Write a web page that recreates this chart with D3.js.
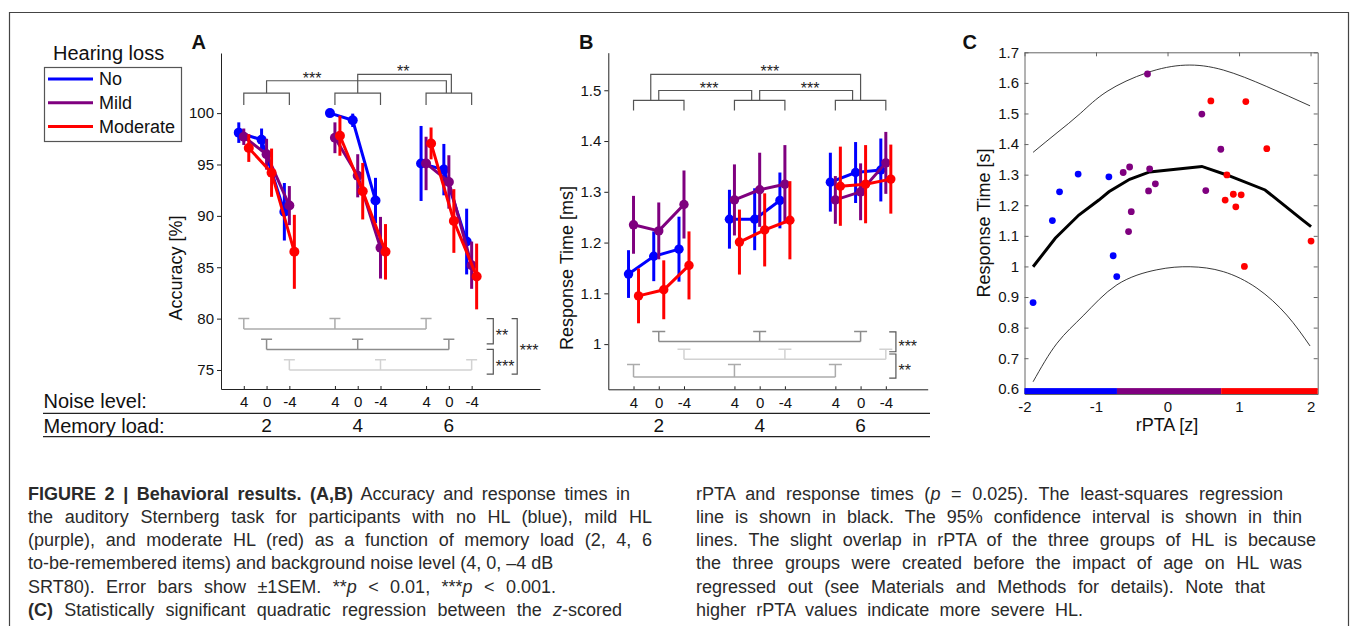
<!DOCTYPE html>
<html>
<head>
<meta charset="utf-8">
<script src="https://cdn.jsdelivr.net/npm/d3@7"></script>
<style>
  body { margin: 0; background: #fff; }
  svg { display: block; font-family: "Liberation Sans", Arial, sans-serif; }
</style>
</head>
<body>
<svg></svg>
<script>
let width = 1353;
let height = 626;
let font = '"Liberation Sans", Arial, sans-serif';

let hlGroups = ['No', 'Mild', 'Moderate'];
let hlColors = ['#0000ff', '#7f007f', '#ff0000'];
let memoryLoads = ['2', '4', '6'];
let noiseLevels = ['4', '0', '-4'];
// slot of every condition on the x axis: load 2 (4,0,-4), load 4, load 6
let slots = [1, 2, 3, 5, 6, 7, 9, 10, 11];

// panel A, accuracy [%] and SEM
let accNo = [98.1, 97.4, 90.4, 100.0, 99.3, 91.5, 95.1, 94.5, 87.5];
let accNoSem = [1.0, 1.1, 2.8, 0.08, 0.65, 2.2, 3.65, 2.5, 3.2];
let accMild = [97.7, 96.0, 91.0, 97.6, 93.9, 86.9, 95.1, 93.3, 85.2];
let accMildSem = [0.8, 1.5, 1.9, 1.5, 2.1, 3.0, 2.6, 2.6, 2.3];
let accMod = [96.6, 94.2, 86.5, 97.8, 92.4, 86.5, 97.05, 89.5, 84.1];
let accModSem = [1.35, 2.35, 3.6, 1.95, 2.75, 2.7, 1.55, 3.1, 3.2];

// panel B, response time and SEM
let rtNo = [1.138, 1.173, 1.187, 1.246, 1.246, 1.283, 1.319, 1.338, 1.343];
let rtNoSem = [0.047, 0.049, 0.064, 0.058, 0.061, 0.055, 0.058, 0.060, 0.062];
let rtMild = [1.235, 1.223, 1.275, 1.284, 1.304, 1.315, 1.284, 1.300, 1.357];
let rtMildSem = [0.057, 0.056, 0.067, 0.070, 0.073, 0.077, 0.047, 0.056, 0.061];
let rtMod = [1.095, 1.107, 1.155, 1.201, 1.225, 1.244, 1.311, 1.315, 1.325];
let rtModSem = [0.054, 0.058, 0.067, 0.064, 0.072, 0.077, 0.078, 0.077, 0.068];

// panel C, rPTA [z] vs response time [s]
let rptaNo = [-1.88, -1.61, -1.51, -1.25, -0.82, -0.76, -0.71];
let respNo = [0.882, 1.150, 1.244, 1.302, 1.293, 1.035, 0.967];
let rptaMild = [-0.62, -0.53, -0.545, -0.507, -0.28, -0.265, -0.25, -0.17, 0.48, 0.535, 0.745];
let respMild = [1.307, 1.325, 1.114, 1.179, 1.629, 1.247, 1.319, 1.270, 1.498, 1.248, 1.383];
let rptaMod = [0.606, 0.806, 0.83, 0.92, 0.955, 1.03, 1.075, 1.095, 1.388, 2.007];
let respMod = [1.541, 1.217, 1.299, 1.236, 1.195, 1.234, 1.0, 1.539, 1.385, 1.083];

let fitX = [-1.88, -1.57, -1.24, -0.96, -0.82, -0.53, -0.25, 0.48, 0.83, 1.364, 1.877, 2.007];
let fitY = [0.999, 1.092, 1.168, 1.217, 1.244, 1.285, 1.309, 1.327, 1.299, 1.25, 1.154, 1.130];
let ciUpX = [-1.88, -1.545, -1.22, -0.846, -0.29, 0.247, 0.78, 1.388, 1.993];
let ciUpY = [1.373, 1.437, 1.50, 1.572, 1.633, 1.658, 1.642, 1.588, 1.525];
let ciLowX = [-1.88, -1.545, -1.17, -0.707, -0.15, 0.317, 0.78, 1.25, 1.667, 1.993];
let ciLowY = [0.623, 0.749, 0.841, 0.94, 0.989, 0.999, 0.983, 0.929, 0.841, 0.740];
let hlBounds = [-2, -0.707, 0.75, 2.1];

let cTicksX = [-2, -1, 0, 1, 2];
let cTicksY = [0.6, 0.7, 0.8, 0.9, 1.0, 1.1, 1.2, 1.3, 1.4, 1.5, 1.6, 1.7];

let captionLeft = [
  [['FIGURE 2 | Behavioral results. (A,B)', 'b'], [' Accuracy and response times in', '']],
  [['the auditory Sternberg task for participants with no HL (blue), mild HL', '']],
  [['(purple), and moderate HL (red) as a function of memory load (2, 4, 6', '']],
  [['to-be-remembered items) and background noise level (4, 0, \u20134 dB', '']],
  [['SRT80). Error bars show \u00b11SEM. **', ''], ['p', 'i'], [' < 0.01, ***', ''], ['p', 'i'], [' < 0.001.', '']],
  [['(C)', 'b'], [' Statistically significant quadratic regression between the ', ''], ['z', 'i'], ['-scored', '']]
];
let captionRight = [
  [['rPTA and response times (', ''], ['p', 'i'], [' = 0.025). The least-squares regression', '']],
  [['line is shown in black. The 95% confidence interval is shown in thin', '']],
  [['lines. The slight overlap in rPTA of the three groups of HL is because', '']],
  [['the three groups were created before the impact of age on HL was', '']],
  [['regressed out (see Materials and Methods for details). Note that', '']],
  [['higher rPTA values indicate more severe HL.', '']]
];
let captionLeftEnds = [630, 652, 652, 548, 556, 622];
let captionRightEnds = [1283, 1302, 1316, 1302, 1265, 1083];

let svg = d3.select('svg')
  .attr('width', width)
  .attr('height', height)

svg.append('rect').attr('width', width).attr('height', height).attr('fill', '#fff');

// page frame
svg.append('path')
  .attr('d', 'M9.5,626V12.5H1348.5V626')
  .attr('fill', 'none')
  .attr('stroke', '#444')
  .attr('stroke-width', 1.2)

let xA = d3.scaleLinear().domain([0, 14]).range([221, 540]);
let yA = d3.scaleLinear().domain([73.15, 105.85]).range([389, 53]);
let xB = d3.scaleLinear().domain([0, 12.66]).range([608.3, 927.7]);
let yB = d3.scaleLinear().domain([0.911, 1.574]).range([389.3, 52.7]);
let xC = d3.scaleLinear().domain([-2, 2.1]).range([1024.5, 1317.7]);
let yC = d3.scaleLinear().domain([0.583, 1.7]).range([394, 52.3]);

let seriesOffset = [-5, 0, 5];

let styleAxis = (g, size, color) => {
  g.attr('font-family', font).attr('font-size', size)
  g.selectAll('path, line').attr('stroke', color)
  g.selectAll('text').attr('fill', '#111')
}

let drawSeries = (xScale, yScale, series, radius) => {
  series.forEach((s, si) => {
    let color = hlColors[si];
    let pts = s.values.map((v, i) => ({
      x: xScale(slots[i]) + seriesOffset[si],
      y: yScale(v),
      lo: yScale(v - s.sem[i]),
      hi: yScale(v + s.sem[i])
    }))
    let g = svg.append('g');
    g.selectAll('line')
      .data(pts)
      .enter()
      .append('line')
      .attr('x1', d => d.x).attr('x2', d => d.x)
      .attr('y1', d => d.lo).attr('y2', d => d.hi)
      .attr('stroke', color)
      .attr('stroke-width', 3)
    memoryLoads.forEach((m, li) => {
      g.append('path')
        .datum(pts.slice(li * 3, li * 3 + 3))
        .attr('d', d3.line().x(d => d.x).y(d => d.y))
        .attr('fill', 'none')
        .attr('stroke', color)
        .attr('stroke-width', 3)
    })
    g.selectAll('circle')
      .data(pts)
      .enter()
      .append('circle')
      .attr('cx', d => d.x)
      .attr('cy', d => d.y)
      .attr('r', radius)
      .attr('fill', color)
  })
}

let stars = (x, y, label, anchor) => {
  svg.append('text')
    .attr('x', x).attr('y', y)
    .attr('text-anchor', anchor)
    .attr('font-size', 16)
    .attr('fill', '#222')
    .text(label)
}

// brackets over each memory load and comparisons between loads
let drawLoadBrackets = (xScale, yScale, barLevel, legLevel, comps) => {
  let g = svg.append('g').attr('fill', 'none').attr('stroke', '#555').attr('stroke-width', 1.2);
  memoryLoads.forEach((m, li) => {
    let x1 = xScale(slots[li * 3]);
    let x2 = xScale(slots[li * 3 + 2]);
    g.append('path')
      .attr('d', `M${x1},${yScale(legLevel)}V${yScale(barLevel)}H${x2}V${yScale(legLevel)}`)
  })
  comps.forEach(c => {
    let xa = xScale(slots[c.a * 3 + 1]) + c.dxA;
    let xb = xScale(slots[c.b * 3 + 1]) + c.dxB;
    g.append('path')
      .attr('d', `M${xa},${yScale(barLevel)}V${yScale(c.level)}H${xb}V${yScale(barLevel)}`)
    stars(xScale(c.at), yScale(c.level) + 3, c.label, 'middle')
  })
}

// noise level brackets below the data and their comparisons at the right
let noiseColors = {'4': '#ababab', '0': '#8c8c8c', '-4': '#d2d2d2'};
let drawNoiseBrackets = (xScale, yScale, rows, capHalf, rights) => {
  rows.forEach(r => {
    let g = svg.append('g').attr('fill', 'none')
      .attr('stroke', noiseColors[noiseLevels[r.n]]).attr('stroke-width', 1.5);
    let xs = memoryLoads.map((m, li) => xScale(slots[li * 3 + r.n]));
    g.append('path').attr('d', `M${xs[0]},${yScale(r.bar)}H${xs[2]}`)
    xs.forEach(x => {
      g.append('path')
        .attr('d', `M${x - capHalf},${yScale(r.tee)}H${x + capHalf}M${x},${yScale(r.tee)}V${yScale(r.bar)}`)
    })
  })
  rights.forEach(r => {
    let x = xScale(r.x);
    let y1 = yScale(r.top);
    let y2 = yScale(r.bottom);
    svg.append('path')
      .attr('d', `M${x - r.stub},${y1}H${x}V${y2}H${x - r.stub}`)
      .attr('fill', 'none')
      .attr('stroke', '#555')
      .attr('stroke-width', 1.2)
    stars(x + 2.5, (y1 + y2) / 2 + 10, r.label, 'start')
  })
}

let drawPanelAxes = (xScale, yScale, yTicks, yFormat, yTitle, titleX) => {
  let yAxis = d3.axisLeft(yScale).tickValues(yTicks).tickFormat(yFormat)
    .tickSize(4).tickSizeOuter(0).tickPadding(3);
  let gy = svg.append('g')
    .attr('transform', `translate(${xScale.range()[0]}, 0)`)
    .call(yAxis)
  styleAxis(gy, 15, '#222')

  let xAxis = d3.axisBottom(xScale).tickValues(slots)
    .tickFormat((d, i) => noiseLevels[i % 3])
    .tickSize(-3).tickSizeOuter(0).tickPadding(7.6);
  let gx = svg.append('g')
    .attr('transform', `translate(0, ${yScale.range()[0]})`)
    .call(xAxis)
  styleAxis(gx, 15, '#222')

  memoryLoads.forEach((m, li) => {
    svg.append('text')
      .attr('x', xScale(slots[li * 3 + 1]))
      .attr('y', 431.7)
      .attr('text-anchor', 'middle')
      .attr('font-size', 19)
      .attr('fill', '#111')
      .text(m)
  })

  let cy = (yScale.range()[0] + yScale.range()[1]) / 2 + 47;
  svg.append('text')
    .attr('transform', `translate(${titleX}, ${cy}) rotate(-90)`)
    .attr('text-anchor', 'middle')
    .attr('font-size', 18)
    .attr('fill', '#111')
    .text(yTitle)
}

let panelLabel = (x, y, t) => {
  svg.append('text')
    .attr('x', x).attr('y', y)
    .attr('font-size', 20)
    .attr('font-weight', 'bold')
    .attr('fill', '#111')
    .text(t)
}

// ---------- panel A ----------
panelLabel(191.5, 48.5, 'A');
drawPanelAxes(xA, yA, [75, 80, 85, 90, 95, 100], d => d, 'Accuracy [%]', 182);
drawLoadBrackets(xA, yA, 101.95, 100.8, [
  {a: 0, b: 2, level: 103.15, dxA: 0, dxB: -2.5, at: 4, label: '***'},
  {a: 1, b: 2, level: 103.77, dxA: 0, dxB: 2.5, at: 8, label: '**'}
]);
drawNoiseBrackets(xA, yA, [
  {n: 0, tee: 80, bar: 79},
  {n: 1, tee: 78, bar: 77},
  {n: 2, tee: 76, bar: 75}
], 5.5, [
  {x: 11.95, top: 80, bottom: 77.55, stub: 6.6, label: '**'},
  {x: 11.95, top: 77, bottom: 74.6, stub: 6.6, label: '***'},
  {x: 13.0, top: 80, bottom: 74.6, stub: 5.6, label: '***'}
]);
drawSeries(xA, yA, [
  {values: accNo, sem: accNoSem},
  {values: accMild, sem: accMildSem},
  {values: accMod, sem: accModSem}
], 5);

// legend
let legend = svg.append('g').attr('font-size', 18).attr('fill', '#111');
svg.append('text').attr('x', 53).attr('y', 59.5).attr('font-size', 20).attr('fill', '#111').text('Hearing loss');
legend.append('rect')
  .attr('x', 44.5).attr('y', 67.5).attr('width', 137).attr('height', 74)
  .attr('fill', '#fff').attr('stroke', '#555').attr('stroke-width', 1.2)
hlGroups.forEach((name, i) => {
  let y = 79 + i * 23.8;
  legend.append('line')
    .attr('x1', 48).attr('x2', 93).attr('y1', y).attr('y2', y)
    .attr('stroke', hlColors[i]).attr('stroke-width', 3)
  legend.append('text').attr('x', 99).attr('y', y + 6.3).text(name)
})

// ---------- panel B ----------
panelLabel(579, 49.3, 'B');
drawPanelAxes(xB, yB, [1, 1.1, 1.2, 1.3, 1.4, 1.5], d => d3.format('.1f')(d).replace('.0', ''), 'Response Time [ms]', 573);
drawLoadBrackets(xB, yB, 1.48, 1.46, [
  {a: 0, b: 1, level: 1.4995, dxA: 0, dxB: -8, at: 4, label: '***'},
  {a: 1, b: 2, level: 1.4995, dxA: 0, dxB: -8, at: 8, label: '***'},
  {a: 0, b: 2, level: 1.5315, dxA: -8, dxB: 0, at: 6.4, label: '***'}
]);
drawNoiseBrackets(xB, yB, [
  {n: 1, tee: 1.025, bar: 1.005},
  {n: 2, tee: 0.99, bar: 0.97},
  {n: 0, tee: 0.96, bar: 0.935}
], 6.5, [
  {x: 11.4, top: 1.024, bottom: 0.985, stub: 6.7, label: '***'},
  {x: 11.4, top: 0.9805, bottom: 0.933, stub: 6.7, label: '**'}
]);
drawSeries(xB, yB, [
  {values: rtNo, sem: rtNoSem},
  {values: rtMild, sem: rtMildSem},
  {values: rtMod, sem: rtModSem}
], 4.7);

// condition table below A and B
svg.append('text').attr('x', 43.5).attr('y', 408).attr('font-size', 20).attr('fill', '#111').text('Noise level:');
svg.append('text').attr('x', 43.5).attr('y', 433).attr('font-size', 20).attr('fill', '#111').text('Memory load:');
[413.3, 436.7].forEach(y => {
  svg.append('line')
    .attr('x1', 43).attr('x2', 930).attr('y1', y).attr('y2', y)
    .attr('stroke', '#222').attr('stroke-width', 1.3)
})

// ---------- panel C ----------
panelLabel(962.5, 49.3, 'C');
let cLeft = svg.append('g').attr('transform', `translate(${xC.range()[0]},0)`)
  .call(d3.axisLeft(yC).tickValues(cTicksY).tickFormat(d => d3.format('.1f')(d).replace('.0', ''))
    .tickSize(-4).tickSizeOuter(0).tickPadding(5.5));
styleAxis(cLeft, 15, '#666');
let cRight = svg.append('g').attr('transform', `translate(${xC.range()[1]},0)`)
  .call(d3.axisRight(yC).tickValues(cTicksY).tickFormat('').tickSize(-4).tickSizeOuter(0));
styleAxis(cRight, 15, '#666');
let cTop = svg.append('g').attr('transform', `translate(0,${yC.range()[1]})`)
  .call(d3.axisTop(xC).tickValues(cTicksX).tickFormat('').tickSize(-4).tickSizeOuter(0));
styleAxis(cTop, 15, '#666');
let cBottom = svg.append('g').attr('transform', `translate(0,${yC.range()[0]})`)
  .call(d3.axisBottom(xC).tickValues(cTicksX).tickFormat(d => String(d)).tickSize(-4).tickSizeOuter(0).tickPadding(7));
styleAxis(cBottom, 15, '#666');

let lineC = d3.line().x(d => xC(d[0])).y(d => yC(d[1]));
svg.append('path')
  .datum(d3.zip(ciUpX, ciUpY))
  .attr('d', lineC.curve(d3.curveNatural))
  .attr('fill', 'none').attr('stroke', '#222').attr('stroke-width', 0.9)
svg.append('path')
  .datum(d3.zip(ciLowX, ciLowY))
  .attr('d', lineC.curve(d3.curveNatural))
  .attr('fill', 'none').attr('stroke', '#222').attr('stroke-width', 0.9)
svg.append('path')
  .datum(d3.zip(fitX, fitY))
  .attr('d', lineC.curve(d3.curveLinear))
  .attr('fill', 'none').attr('stroke', '#000').attr('stroke-width', 3)

let scatter = [[rptaNo, respNo], [rptaMild, respMild], [rptaMod, respMod]];
scatter.forEach((s, si) => {
  svg.append('g')
    .selectAll('circle')
    .data(d3.zip(s[0], s[1]))
    .enter()
    .append('circle')
    .attr('cx', d => xC(d[0]))
    .attr('cy', d => yC(d[1]))
    .attr('r', 3.4)
    .attr('fill', hlColors[si])
})

svg.append('g')
  .selectAll('rect')
  .data(hlColors)
  .enter()
  .append('rect')
  .attr('x', (c, i) => xC(hlBounds[i]))
  .attr('width', (c, i) => xC(hlBounds[i + 1]) - xC(hlBounds[i]))
  .attr('y', yC(0.6) - 0.7)
  .attr('height', yC.range()[0] - yC(0.6) + 0.7)
  .attr('fill', c => c)

svg.append('text')
  .attr('transform', `translate(989.5, 223) rotate(-90)`)
  .attr('text-anchor', 'middle').attr('font-size', 18).attr('fill', '#111')
  .text('Response Time [s]')
svg.append('text')
  .attr('x', 1167).attr('y', 431)
  .attr('text-anchor', 'middle').attr('font-size', 18).attr('fill', '#111')
  .text('rPTA [z]')

// ---------- caption ----------
// word gaps are stretched so each line ends where the printed one does
let drawCaption = (lines, x0, ends) => {
  lines.forEach((parts, i) => {
    let t = svg.append('text')
      .attr('x', x0)
      .attr('y', 499.5 + i * 23.3)
      .attr('font-size', 18)
      .attr('fill', '#2a2a2a')
    parts.forEach(p => {
      t.append('tspan')
        .attr('font-weight', p[1] === 'b' ? 'bold' : null)
        .attr('font-style', p[1] === 'i' ? 'italic' : null)
        .text(p[0])
    })
    let w = t.node().getBBox().width;
    let gaps = parts.map(p => p[0]).join('').split(' ').length - 1;
    let spacing = Math.max(0, (ends[i] - x0 - w) / gaps);
    t.style('word-spacing', `${spacing}px`)
  })
}
svg.attr('xml:space', 'preserve');
drawCaption(captionLeft, 28, captionLeftEnds);
drawCaption(captionRight, 696, captionRightEnds);
</script>
</body>
</html>
